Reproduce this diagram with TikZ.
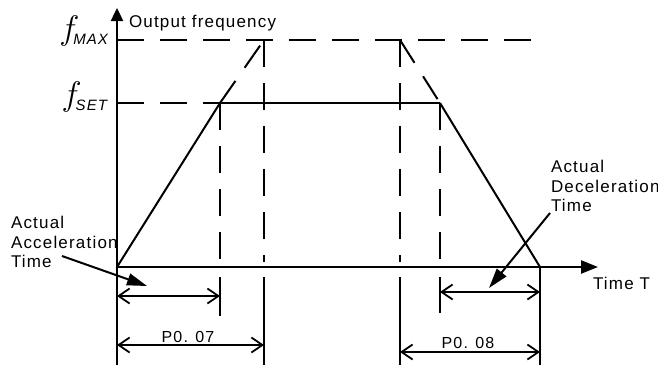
\documentclass[tikz,border=0pt]{standalone}
\usepackage{fix-cm}
\usepackage{fontspec}
\setmainfont[LetterSpace=7]{Liberation Sans}
\usetikzlibrary{arrows.meta}

\tikzset{
  dsh/.style={dash pattern=on 27pt off 16pt},
  dim/.style={{Straight Barb[length=11pt,width=15pt]}-{Straight Barb[length=11pt,width=15pt]},line width=1.8pt},
  pointer/.style={-{Triangle[length=20pt,width=12pt]},line width=2pt},
  lbl/.style={inner sep=0pt,font=\fontsize{17}{19.5}\selectfont},
  dimlbl/.style={inner sep=0pt,font=\fontsize{16}{18}\selectfont}
}
\newcommand{\freqlabel}[1]{{\fontsize{34}{34}\selectfont$f$}\hspace{-6pt}\raisebox{-5pt}{\fontsize{15}{15}\selectfont\itshape #1}}

\begin{document}
\begin{tikzpicture}[x=1pt,y=-1pt,line width=2pt]
\useasboundingbox (0,0) rectangle (658,370);

% corner points of the curve
\coordinate (O) at (117,267);
\coordinate (acc) at (220,103);
\coordinate (accmax) at (264,40);
\coordinate (decmax) at (400,40);
\coordinate (dec) at (440,103);
\coordinate (stop) at (540,267);

% axes
\draw[line width=2.4pt,-{Triangle[length=13pt,width=12pt]}] (117,365) -- (117,8) coordinate (ytop);
\draw[line width=2.4pt,-{Triangle[length=17pt,width=13pt]}] (O) -- (598,267) coordinate (xend);
\node[lbl,anchor=base west] (yname) at (128,27) {Output frequency};
\node[lbl,anchor=base west] (xname) at (592,289) {Time T};

% frequency levels
\draw[dsh] (O |- accmax) -- (535,40);
\draw[dsh] (O |- acc) -- (acc);
\draw (acc) -- (dec);
\node[inner sep=0pt,anchor=base east] (fmax) at (109,39) {\freqlabel{MAX}};
\node[inner sep=0pt,anchor=base east] (fset) at (108,105) {\freqlabel{SET}};

% ramps
\draw (O) -- (acc);
\draw[dsh] (acc) -- (accmax);
\draw[dsh] (decmax) -- (dec);
\draw (dec) -- (stop);

% guide lines
\draw[dsh] (acc) -- (220,262);
\draw (220,277) -- (220,316);
\draw[dsh] (accmax) -- (264,262);
\draw (264,277) -- (264,365);
\draw[dsh] (decmax) -- (400,262);
\draw (400,277) -- (400,365);
\draw[dsh] (dec) -- (440,262);
\draw (440,277) -- (440,313);
\draw (stop) -- (540,365);

% times
\draw[dim] (117,296) -- (220,296);
\draw[dim] (117,345) -- (264,345);
\node[dimlbl] (p007) at (188,337) {P0. 07};
\draw[dim] (440,292) -- (540,292);
\draw[dim] (400,352) -- (540,352);
\node[dimlbl] (p008) at (468,343) {P0. 08};

% notes
\node[lbl,align=left,anchor=west] (accnote) at (10,242) {Actual\\Acceleration\\Time};
\coordinate (acctail) at (62,256);
\coordinate (acctip) at (147,286);
\draw[pointer] (acctail) -- (acctip);

\node[lbl,align=left,anchor=west] (decnote) at (550,186) {Actual\\Deceleration\\Time};
\coordinate (dectail) at (550,213);
\coordinate (dectip) at (489,288);
\draw[pointer] (dectail) -- (dectip);

\end{tikzpicture}
\end{document}
